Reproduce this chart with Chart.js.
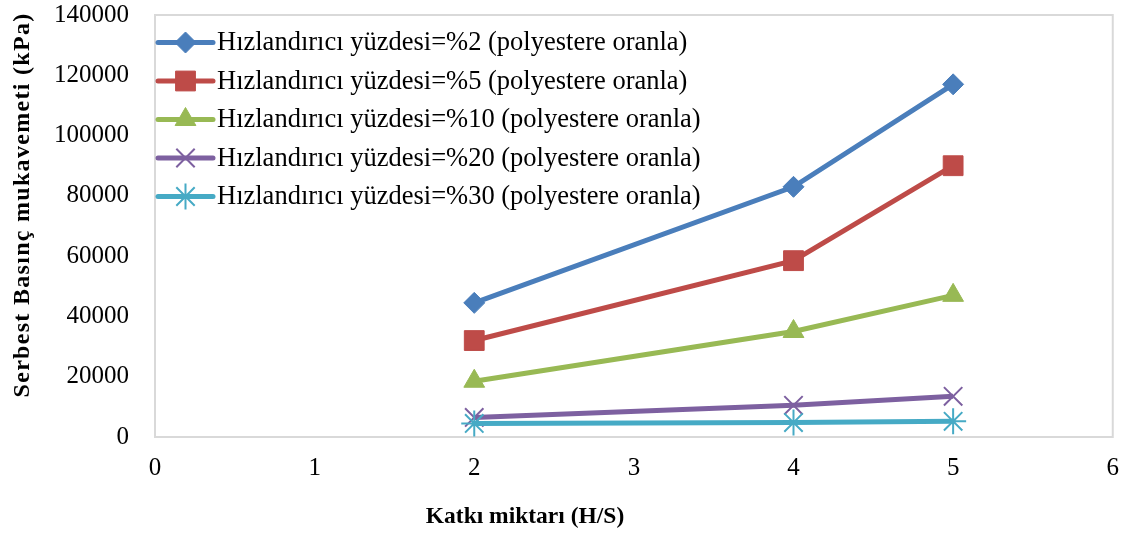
<!DOCTYPE html>
<html>
<head>
<meta charset="utf-8">
<script src="https://cdn.jsdelivr.net/npm/chart.js@4"></script>
<style>
  html, body { margin: 0; padding: 0; background: #fff; }
  #wrap { width: 1135px; height: 539px; }
</style>
</head>
<body>
<div id="wrap"><canvas id="chart"></canvas></div>
<script>
// Katkı miktarı (H/S)
const katki = [2, 4, 5];

// Serbest basınç mukavemeti (kPa) per accelerator ratio
const hiz2 = [44500, 83000, 117000];
const hiz5 = [32000, 58500, 90000];
const hiz10 = [18500, 35000, 47000];
const hiz20 = [6500, 10500, 13500];
const hiz30 = [4500, 4800, 5200];

const seriesLabels = [
  'Hızlandırıcı yüzdesi=%2 (polyestere oranla)',
  'Hızlandırıcı yüzdesi=%5 (polyestere oranla)',
  'Hızlandırıcı yüzdesi=%10 (polyestere oranla)',
  'Hızlandırıcı yüzdesi=%20 (polyestere oranla)',
  'Hızlandırıcı yüzdesi=%30 (polyestere oranla)'
];

const xTitle = 'Katkı miktarı (H/S)';
const yTitle = 'Serbest Basınç mukavemeti (kPa)';

const serif = '"Liberation Serif", "Times New Roman", serif';

const styles = [
  { color: '#4A7EBB', pointStyle: 'rectRot', radius: 10.5, pw: 1 },
  { color: '#BE4B48', pointStyle: 'rect', radius: 14, pw: 1 },
  { color: '#98B954', pointStyle: 'triangle', radius: 12, pw: 1 },
  { color: '#7D60A0', pointStyle: 'crossRot', radius: 13, pw: 2 },
  { color: '#46AAC5', pointStyle: 'star', radius: 13, pw: 2 }
];

const values = [hiz2, hiz5, hiz10, hiz20, hiz30];

const datasets = values.map((vals, i) => ({
  label: seriesLabels[i],
  data: vals.map((v, j) => ({ x: katki[j], y: v })),
  borderColor: styles[i].color,
  backgroundColor: styles[i].color,
  pointBorderColor: styles[i].color,
  pointBackgroundColor: styles[i].color,
  borderWidth: 5,
  pointStyle: styles[i].pointStyle,
  pointRadius: styles[i].radius,
  pointBorderWidth: styles[i].pw,
  pointHoverRadius: styles[i].radius,
  tension: 0,
  order: values.length - i
}));

// frame around plot area, axis titles and the in-plot legend
const decorations = {
  id: 'decorations',
  beforeDatasetsDraw(chart) {
    const { ctx, chartArea: a } = chart;
    ctx.save();
    ctx.strokeStyle = '#D9D9D9';
    ctx.lineWidth = 2;
    ctx.strokeRect(a.left, a.top, a.right - a.left, a.bottom - a.top);
    ctx.restore();
  },
  afterDraw(chart) {
    const { ctx } = chart;
    ctx.save();
    ctx.fillStyle = '#000';
    ctx.textAlign = 'center';
    ctx.textBaseline = 'middle';
    ctx.font = 'bold 23.5px ' + serif;
    ctx.fillText(xTitle, 525, 517);
    ctx.font = 'bold 24px ' + serif;
    ctx.letterSpacing = '1.3px';
    ctx.translate(23, 205);
    ctx.rotate(-Math.PI / 2);
    ctx.fillText(yTitle, 0, 0);
    ctx.restore();

    // legend rows
    ctx.save();
    const x0 = 158, lineLen = 55, rowH = 38.5, y0 = 42.5;
    chart.data.datasets.forEach((ds, i) => {
      const y = y0 + i * rowH;
      ctx.strokeStyle = ds.borderColor;
      ctx.lineWidth = 5;
      ctx.lineCap = 'round';
      ctx.beginPath();
      ctx.moveTo(x0, y);
      ctx.lineTo(x0 + lineLen, y);
      ctx.stroke();
      ctx.lineCap = 'butt';
      ctx.fillStyle = ds.pointBackgroundColor;
      ctx.strokeStyle = ds.pointBorderColor;
      ctx.lineWidth = ds.pointBorderWidth;
      Chart.helpers.drawPoint(ctx, {
        pointStyle: ds.pointStyle,
        radius: ds.pointRadius,
        borderWidth: ds.pointBorderWidth,
        rotation: 0
      }, x0 + lineLen / 2, y);
      ctx.fillStyle = '#000';
      ctx.font = '26.5px ' + serif;
      ctx.textAlign = 'left';
      ctx.textBaseline = 'middle';
      ctx.fillText(ds.label, x0 + lineLen + 4, y + 1);
    });
    ctx.restore();
  }
};

new Chart(document.getElementById('chart'), {
  type: 'line',
  data: { datasets },
  options: {
    responsive: true,
    maintainAspectRatio: false,
    animation: false,
    layout: { autoPadding: false, padding: { left: 0, right: 22, top: 15, bottom: 0 } },
    plugins: {
      legend: { display: false },
      tooltip: { enabled: false }
    },
    scales: {
      x: {
        type: 'linear',
        min: 0,
        max: 6,
        ticks: {
          stepSize: 1,
          padding: 16,
          color: '#000',
          font: { family: serif, size: 25 }
        },
        grid: { display: false, drawTicks: false },
        border: { display: false },
        afterFit(scale) { scale.height = 102; }
      },
      y: {
        min: 0,
        max: 140000,
        ticks: {
          stepSize: 20000,
          padding: 26,
          color: '#000',
          font: { family: serif, size: 25 },
          callback: (v) => String(v)
        },
        grid: { display: false, drawTicks: false },
        border: { display: false },
        afterFit(scale) {
          // tick padding would otherwise push the plot top down
          scale.width = 155;
          scale.paddingTop = 15;
          scale.paddingBottom = 15;
        }
      }
    }
  },
  plugins: [decorations]
});
</script>
</body>
</html>
